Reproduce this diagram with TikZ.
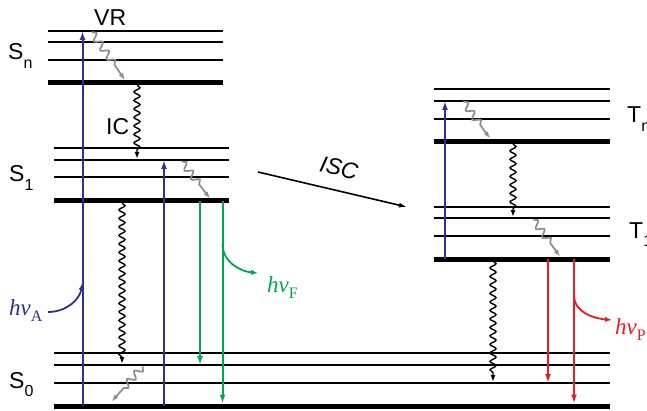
\documentclass[tikz,border=0pt]{standalone}
\usepackage{fontspec}
\setmainfont{Liberation Sans}
\newfontfamily\tnr{Liberation Serif}
\usetikzlibrary{arrows.meta, decorations.pathmorphing}
\definecolor{absblue}{HTML}{2E3192}
\definecolor{fluogreen}{HTML}{00A651}
\definecolor{phosred}{HTML}{ED1C24}
\definecolor{vrgray}{HTML}{8C8C8C}
\newcommand{\lvlname}[2]{#1\raisebox{-0.38em}{\fontsize{16}{16}\selectfont #2}}
\newcommand{\hvname}[1]{{\tnr\itshape hv}\raisebox{-0.3em}{\tnr\fontsize{16}{16}\selectfont #1}}

\begin{document}
\begin{tikzpicture}[x=1pt, y=1pt, font=\fontsize{23}{27}\selectfont,
  vib/.style={line width=1.4pt},
  ground/.style={line width=5pt},
  absorb/.style={absblue, line width=2pt, -{Latex[length=9pt, width=6pt]}},
  fluo/.style={fluogreen, line width=2pt, -{Latex[length=9pt, width=6pt]}},
  phos/.style={phosred, line width=2pt, -{Latex[length=9pt, width=6pt]}},
  nonrad/.style={line width=1.4pt, -{Latex[length=7pt, width=5pt]}, decorate,
                 decoration={snake, amplitude=3pt, segment length=8.5pt, post length=6pt}},
  relax/.style={vrgray, line width=1.7pt, -{Latex[length=7pt, width=5pt]}, decorate,
                decoration={snake, amplitude=3.5pt, segment length=11pt, post length=16pt}},
  photon/.style={line width=1.8pt, -{Latex[length=7pt, width=5.5pt]}},
  lbl/.style={inner sep=0pt, anchor=base west}
]
\useasboundingbox (0,0) rectangle (647,410);

% ---- singlet levels -----------------------------------------------------
\foreach \y in {379,368,350} \draw[vib] (48,\y) -- (223,\y);
\draw[ground] (48,327) -- (223,327);
\foreach \y in {262,250,233} \draw[vib] (54,\y) -- (229,\y);
\draw[ground] (54,209) -- (229,209);
\foreach \y in {57,45,27} \draw[vib] (54,\y) -- (610,\y);
\draw[ground] (54,4) -- (610,4);

% ---- triplet levels -----------------------------------------------------
\foreach \y in {321,309,291} \draw[vib] (434,\y) -- (610,\y);
\draw[ground] (434,268) -- (610,268);
\foreach \y in {203,192,174} \draw[vib] (434,\y) -- (610,\y);
\draw[ground] (434,151) -- (610,151);

% ---- labels -------------------------------------------------------------
\node[lbl] (sn) at (8,350) {\lvlname{S}{n}};
\node[lbl] (s1) at (9,228) {\lvlname{S}{1}};
\node[lbl] (s0) at (9,22) {\lvlname{S}{0}};
\node[lbl] (tn) at (627,287) {\lvlname{T}{n}};
\node[lbl] (t1) at (629,172) {\lvlname{T}{1}};
\node[lbl] (vr) at (94,384) {VR};
\node[lbl] (ic) at (106,275) {IC};
\node[inner sep=0pt, rotate=-13] (isc) at (339,242) {\itshape ISC};

% ---- absorption ---------------------------------------------------------
\draw[absorb] (82.5,4) -- (82.5,379);
\draw[absorb] (164,4) -- (164,250);
\draw[absorb] (445,151) -- (445,309);
\node[lbl, text=absblue] (hva) at (9,95) {\hvname{A}};
\coordinate (ahit) at (82.5,127);
\draw[photon, absblue] (48,98) to[out=0, in=-100] (ahit);

% ---- relaxation ---------------------------------------------------------
\draw[relax] (91.7,378) -- (125,330);
\draw[relax] (181.7,248.5) -- (210,211.5);
\draw[relax] (463.3,308.5) -- (490,271.5);
\draw[relax] (533.3,190.5) -- (560,153.5);
\draw[relax] (142.7,43.5) -- (111.7,8.5);
\draw[nonrad] (137,325) -- (137,251);
\draw[nonrad] (122,207) -- (122,46);
\draw[nonrad] (513,266) -- (513,193);
\draw[nonrad] (493,149) -- (493,28);

% ---- intersystem crossing -----------------------------------------------
\draw[line width=1.6pt, -{Latex[length=8pt, width=5pt]}] (258,238) -- (407,203);

% ---- fluorescence -------------------------------------------------------
\draw[fluo] (200,209) -- (200,45);
\draw[fluo] (222.5,209) -- (222.5,6.5);
\coordinate (fleave) at (222.5,166);
\node[lbl, text=fluogreen] (hvf) at (267,118) {\hvname{F}};
\draw[photon, fluogreen] (fleave) to[out=-90, in=175] (258,137);

% ---- phosphorescence ----------------------------------------------------
\draw[phos] (548,151) -- (548,27);
\draw[phos] (574,151) -- (574,6.5);
\coordinate (pleave) at (574,115);
\node[lbl, text=phosred] (hvp) at (615,76) {\hvname{P}};
\draw[photon, phosred] (pleave) to[out=-90, in=175] (612,90);
\end{tikzpicture}
\end{document}
